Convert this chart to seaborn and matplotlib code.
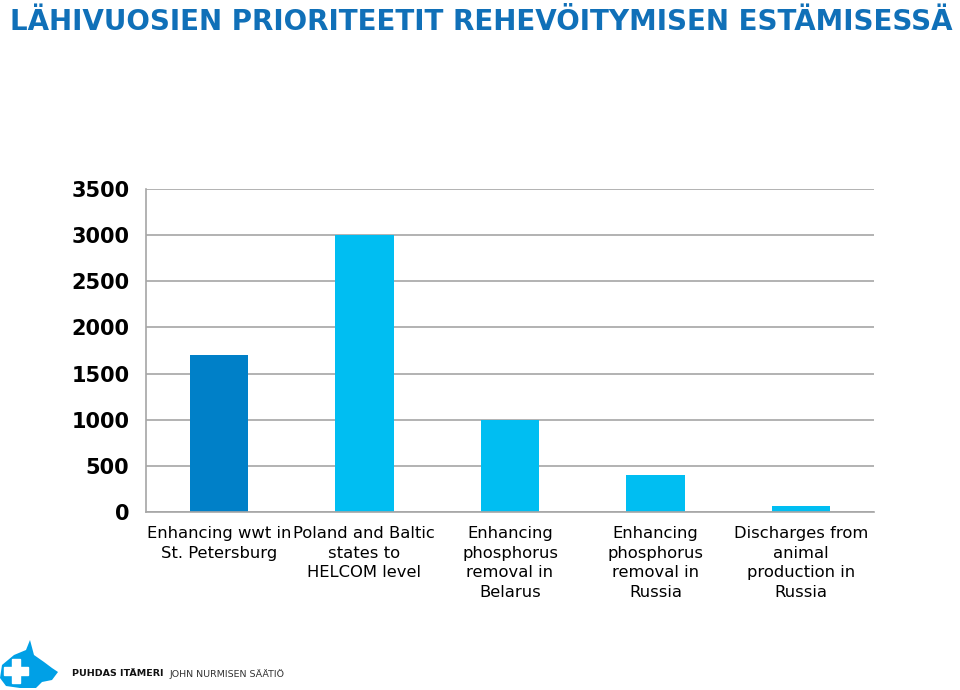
import matplotlib
matplotlib.use("Agg")
import matplotlib.pyplot as plt
import seaborn as sns
import pandas as pd
from matplotlib.patches import Polygon, Rectangle

categories = [
    "Enhancing wwt in\nSt. Petersburg",
    "Poland and Baltic\nstates to\nHELCOM level",
    "Enhancing\nphosphorus\nremoval in\nBelarus",
    "Enhancing\nphosphorus\nremoval in\nRussia",
    "Discharges from\nanimal\nproduction in\nRussia",
]
values = [1700, 3000, 1000, 400, 60]
bar_colors = ["#0080C8", "#00BEF2", "#00BEF2", "#00BEF2", "#00BEF2"]
yticks = [0, 500, 1000, 1500, 2000, 2500, 3000, 3500]
title = "LÄHIVUOSIEN PRIORITEETIT REHEVÖITYMISEN ESTÄMISESSÄ"

sns.set_style("white")
plt.rcParams['font.family'] = ['DejaVu Sans']

df = pd.DataFrame({"cat": categories, "val": values})

fig = plt.figure(figsize=(9.6, 6.9), dpi=100)
ax = fig.add_axes([146/960, 1-512/690, (874-146)/960, (512-189)/690])
sns.barplot(data=df, x="cat", y="val", hue="cat", palette=bar_colors,
            legend=False, width=0.4, ax=ax, saturation=1, linewidth=0)

ax.set_ylim(0, 3500)
ax.set_xlim(-0.5, 4.5)
ax.set_yticks(yticks)
ax.set_yticklabels([str(t) for t in yticks], fontsize=15, fontweight="bold",
                   color="black")
ax.yaxis.grid(True, color="#A6A6A6", linewidth=1.2)
ax.set_axisbelow(True)
ax.set_xlabel("")
ax.set_ylabel("")
ax.set_xticks(range(len(categories)))
ax.set_xticklabels(categories, fontsize=11.8, linespacing=1.4, va="top",
                   color="black")
ax.tick_params(axis="x", which="major", length=0, pad=10)
ax.set_xticks([i - 0.5 for i in range(len(categories) + 1)], minor=True)
ax.tick_params(axis="x", which="minor", length=5, color="#A6A6A6", width=1.2)
ax.tick_params(axis="y", length=5, color="#A6A6A6", width=1.2, pad=7)
for s in ["top", "right"]:
    ax.spines[s].set_visible(False)
for s in ["left", "bottom"]:
    ax.spines[s].set_color("#A6A6A6")
    ax.spines[s].set_linewidth(1.2)

t = fig.text(10/960, 1-22/690, title, fontsize=27, fontweight="bold",
             color="#1070B8", va="center", ha="left")
fig.canvas.draw()
w = t.get_window_extent(fig.canvas.get_renderer()).width
t.set_fontsize(27 * 946 / w)

# footer logo
shape = [(2, 665), (14, 655), (26, 650), (30, 640), (34, 655), (44, 662), (52, 668),
         (58, 672), (52, 680), (42, 682), (36, 688), (20, 688), (6, 686), (0, 678)]
fig.patches.append(Polygon([(x/960, 1-y/690) for x, y in shape], closed=True,
                           transform=fig.transFigure, facecolor="#00A0E6",
                           edgecolor="none"))
fig.patches.append(Rectangle((12/960, 1-683/690), 8/960, 24/690,
                             transform=fig.transFigure, facecolor="white"))
fig.patches.append(Rectangle((4/960, 1-675/690), 24/960, 8/690,
                             transform=fig.transFigure, facecolor="white"))
fig.text(72/960, 1-674/690, "PUHDAS ITÄMERI", fontsize=6.8, fontweight="bold",
         color="#111111", va="center")
fig.text(170/960, 1-674/690, "JOHN NURMISEN SÄÄTIÖ", fontsize=6.8,
         color="#333333", va="center")

fig.savefig("out.png", dpi=100)
